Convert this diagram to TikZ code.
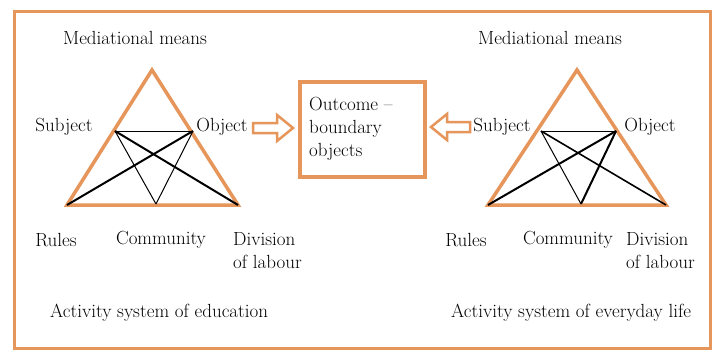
\documentclass[tikz,border=0pt]{standalone}
\definecolor{org}{RGB}{230,150,90}
\begin{document}
\begin{tikzpicture}[x=1pt,y=-1pt,
  lbl/.style={inner sep=0pt,font=\fontsize{19}{23}\selectfont},
  tri/.style={draw=org,line width=3.5pt,line join=miter},
  thinl/.style={draw=black,line width=1pt},
  thickl/.style={draw=black,line width=2pt},
  harrow/.style={draw=org,fill=white,line width=2.5pt,line join=miter}]
\useasboundingbox (0,0) rectangle (713,351);
\fill[white] (0,0) rectangle (713,351);
\draw[org,line width=3pt] (14.5,11.5) rectangle (710,348);
% left triangle
\coordinate (LA) at (152,70);
\coordinate (LR) at (67,205);
\coordinate (LD) at (238,205);
\coordinate (LS) at (115,131);
\coordinate (LO) at (193,131);
\coordinate (LC) at (156,204);
\draw[tri] (LA) -- (LR) -- (LD) -- cycle;
\draw[thinl] (LS) -- (LO);
\draw[thinl] (LS) -- (LC);
\draw[thinl] (LO) -- (LC);
\draw[thickl] (LS) -- (LD);
\draw[thickl] (LO) -- (LR);
% right triangle
\coordinate (RA) at (577,70);
\coordinate (RR) at (488,205);
\coordinate (RD) at (666,205);
\coordinate (RS) at (541,131);
\coordinate (RO) at (616,131);
\coordinate (RC) at (581,204);
\draw[tri] (RA) -- (RR) -- (RD) -- cycle;
\draw[thinl] (RS) -- (RO);
\draw[thinl] (RS) -- (RC);
\draw[thickl] (RO) -- (RC);
\draw[line width=1.6pt] (RS) -- (RD);
\draw[thickl] (RO) -- (RR);
% box
\node[draw=org,line width=3.5pt,minimum width=125pt,minimum height=95pt,inner sep=0pt] (box) at (362.5,129.5) {};
\node[lbl,anchor=north west,align=left] (outc) at (309,97) {Outcome --\\boundary\\objects};
% hollow arrows
\draw[harrow] (253,123) -- (277,123) -- (277,115) -- (293,128) -- (277,141) -- (277,133) -- (253,133) -- cycle;
\draw[harrow] (470,122) -- (447,122) -- (447,114) -- (431,127) -- (447,140) -- (447,132) -- (470,132) -- cycle;
% left labels
\node[lbl] (lmm) at (135,38) {Mediational means};
\node[lbl] (lsub) at (64,127) {Subject};
\node[lbl] (lobj) at (222,127) {Object};
\node[lbl] (lrul) at (56,240) {Rules};
\node[lbl] (lcom) at (161,240) {Community};
\node[lbl,align=left,anchor=west] (ldiv) at (233,251) {Division\\of labour};
\node[lbl,anchor=west] (lact) at (50,313) {Activity system of education};
% right labels
\node[lbl] (rmm) at (550,38) {Mediational means};
\node[lbl] (rsub) at (502,127) {Subject};
\node[lbl] (robj) at (650,127) {Object};
\node[lbl] (rrul) at (466,240) {Rules};
\node[lbl] (rcom) at (568,240) {Community};
\node[lbl,align=left,anchor=west] (rdiv) at (626,251) {Division\\of labour};
\node[lbl,anchor=west] (ract) at (451,313) {Activity system of everyday life};
\end{tikzpicture}
\end{document}
